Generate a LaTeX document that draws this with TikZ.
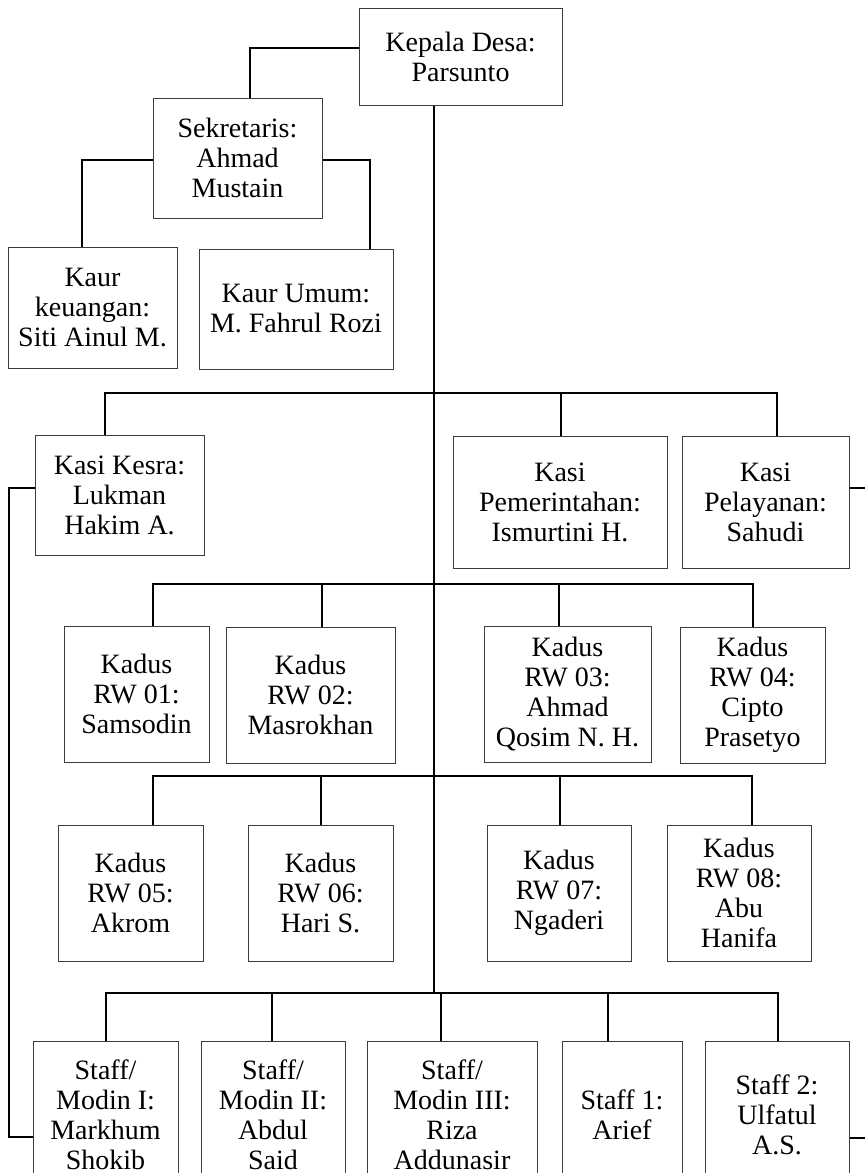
\documentclass[tikz,border=0pt]{standalone}
\usepackage{fontspec}
\setmainfont{Liberation Serif}
\definecolor{boxgray}{RGB}{60,60,60}

\begin{document}
\begin{tikzpicture}[
        x=1pt, y=-1pt,
        kotak/.style={
            draw=boxgray,
            line width=1pt,
            fill=white,
            inner sep=0pt,
            align=center,
            font=\fontsize{28}{30}\selectfont
        },
        garis/.style={
            draw=black,
            line width=2pt
        }
    ]

    \clip (0,0) rectangle (865,1173);
    \fill[white] (0,0) rectangle (865,1173);

    \node[kotak, minimum width=203pt, minimum height=97pt] (kades) at (460.5,56.5) {Kepala Desa:\\Parsunto};
    \node[kotak, minimum width=169pt, minimum height=120pt] (sekdes) at (237.5,158) {Sekretaris:\\Ahmad\\Mustain};
    \node[kotak, minimum width=169pt, minimum height=121pt] (kaurkeu) at (92.5,307.5) {Kaur\\keuangan:\\Siti Ainul M.};
    \node[kotak, minimum width=194pt, minimum height=120pt] (kaurumum) at (296,309) {Kaur Umum:\\M. Fahrul Rozi};

    \node[kotak, minimum width=169pt, minimum height=120pt] (kesra) at (119.5,495) {Kasi Kesra:\\Lukman\\Hakim A.};
    \node[kotak, minimum width=214pt, minimum height=132pt] (pemerintahan) at (560,502) {Kasi\\Pemerintahan:\\Ismurtini H.};
    \node[kotak, minimum width=167pt, minimum height=132pt] (pelayanan) at (765.5,502) {Kasi\\Pelayanan:\\Sahudi};

    \node[kotak, minimum width=145pt, minimum height=136pt] (rw01) at (136.5,694) {Kadus\\RW 01:\\Samsodin};
    \node[kotak, minimum width=169pt, minimum height=136pt] (rw02) at (310.5,695) {Kadus\\RW 02:\\Masrokhan};
    \node[kotak, minimum width=167pt, minimum height=136pt] (rw03) at (567.5,694) {Kadus\\RW 03:\\Ahmad\\Qosim N. H.};
    \node[kotak, minimum width=145pt, minimum height=136pt] (rw04) at (752.5,695) {Kadus\\RW 04:\\Cipto\\Prasetyo};

    \node[kotak, minimum width=145pt, minimum height=136pt] (rw05) at (130.5,893) {Kadus\\RW 05:\\Akrom};
    \node[kotak, minimum width=145pt, minimum height=136pt] (rw06) at (320.5,893) {Kadus\\RW 06:\\Hari S.};
    \node[kotak, minimum width=144pt, minimum height=136pt] (rw07) at (559,893) {Kadus\\RW 07:\\Ngaderi};
    \node[kotak, minimum width=144pt, minimum height=136pt] (rw08) at (739,893) {Kadus\\RW 08:\\Abu\\Hanifa};

    \node[kotak, minimum width=145pt, minimum height=147pt] (modin1) at (105.5,1114.5) {Staff/\\Modin I:\\Markhum\\Shokib};
    \node[kotak, minimum width=144pt, minimum height=147pt] (modin2) at (273,1114.5) {Staff/\\Modin II:\\Abdul\\Said};
    \node[kotak, minimum width=170pt, minimum height=147pt] (modin3) at (452,1114.5) {Staff/\\Modin III:\\Riza\\Addunasir};
    \node[kotak, minimum width=120pt, minimum height=147pt] (staff1) at (622,1114.5) {Staff 1:\\Arief};
    \node[kotak, minimum width=144pt, minimum height=147pt] (staff2) at (777,1114.5) {Staff 2:\\Ulfatul\\A.S.};

    \coordinate (buskasi) at (434,393);
    \coordinate (buskadus1) at (434,584);
    \coordinate (buskadus2) at (434,776);
    \coordinate (busstaff) at (434,993);

    \draw[garis] ([yshift=8.5pt]kades.west) -| ([xshift=12.5pt]sekdes.north);
    \draw[garis] ([yshift=-2pt]sekdes.west) -| ([xshift=-10.5pt]kaurkeu.north);
    \draw[garis] ([yshift=-2pt]sekdes.east) -| ([xshift=-24pt]kaurumum.north east);
    \draw[garis] ([xshift=-26.5pt]kades.south) -- (busstaff);

    \draw[garis] ([xshift=-14.5pt]kesra.north) |- (buskasi);
    \draw[garis] ([xshift=1pt]pemerintahan.north) |- (buskasi);
    \draw[garis] ([xshift=11.5pt]pelayanan.north) |- (buskasi);

    \draw[garis] ([xshift=16.5pt]rw01.north) |- (buskadus1);
    \draw[garis] ([xshift=11.5pt]rw02.north) |- (buskadus1);
    \draw[garis] ([xshift=-8.5pt]rw03.north) |- (buskadus1);
    \draw[garis] (rw04.north) |- (buskadus1);

    \draw[garis] ([xshift=22.5pt]rw05.north) |- (buskadus2);
    \draw[garis] (rw06.north) |- (buskadus2);
    \draw[garis] ([xshift=1pt]rw07.north) |- (buskadus2);
    \draw[garis] ([xshift=13pt]rw08.north) |- (buskadus2);

    \draw[garis] (modin1.north) |- (busstaff);
    \draw[garis] ([xshift=-1pt]modin2.north) |- (busstaff);
    \draw[garis] ([xshift=-11pt]modin3.north) |- (busstaff);
    \draw[garis] ([xshift=-14pt]staff1.north) |- (busstaff);
    \draw[garis] ([xshift=1pt]staff2.north) |- (busstaff);

    \draw[garis] ([yshift=7pt]kesra.west) -- ++(-26,0) |- ([yshift=-22.5pt]modin1.west);
    \draw[garis] ([yshift=14pt]pelayanan.east) -- ++(20,0);
    \draw[garis] ([yshift=-23.5pt]staff2.east) -- ++(20,0);

\end{tikzpicture}
\end{document}
